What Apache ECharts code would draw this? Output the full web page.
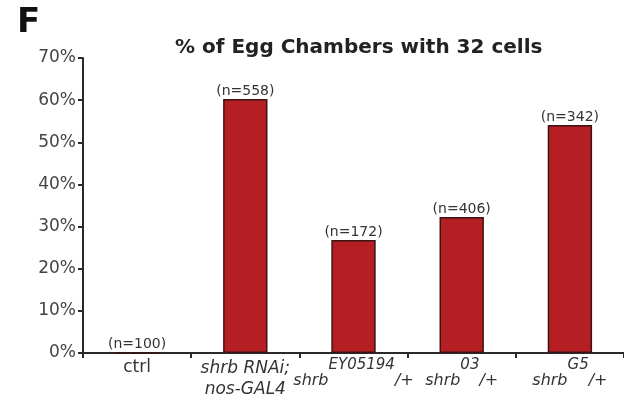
<!DOCTYPE html>
<html>
<head>
<meta charset="utf-8">
<script src="https://cdn.jsdelivr.net/npm/echarts@6/dist/echarts.min.js"></script>
<style>html,body{margin:0;padding:0;background:#fff;}#c{width:624px;height:408px;}</style>
</head>
<body>
<div id="c"></div>
<script>
const categories = ['ctrl', 'shrb RNAi; nos-GAL4', 'shrb EY05194/+', 'shrb 03/+', 'shrb G5/+'];
const percentValues = [0, 60.3, 26.8, 32.3, 54.1];
const nCounts = [100, 558, 172, 406, 342];
const yTicks = [0, 10, 20, 30, 40, 50, 60, 70];
const titleText = '% of Egg Chambers with 32 cells';
const panelLetter = 'F';

const categoryRich = {
  'ctrl': '{n|ctrl}',
  'shrb RNAi; nos-GAL4': '{i|shrb RNAi;}\n{i|nos-GAL4}',
  'shrb EY05194/+': '{b|shrb}{s|EY05194}{b|/+}',
  'shrb 03/+': '{b|shrb}{s|03}{b|/+}',
  'shrb G5/+': '{b|shrb}{s|G5}{b|/+}'
};

const FONT = 'DejaVu Sans';
const chart = echarts.init(document.getElementById('c'), null, {renderer: 'canvas'});
chart.setOption({
  animation: false,
  backgroundColor: '#ffffff',
  title: [
    {text: panelLetter, left: 12, top: 1,
     textStyle: {fontFamily: FONT, fontSize: 34, fontWeight: 'bold', color: '#111'}},
    {text: titleText, left: 170, top: 33,
     textStyle: {fontFamily: FONT, fontSize: 20, fontWeight: 'bold', color: '#222'}}
  ],
  grid: {left: 83, right: 0, top: 58, bottom: 55, containLabel: false},
  xAxis: {
    type: 'category',
    data: categories,
    axisLine: {lineStyle: {color: '#2a2a2a', width: 2}},
    axisTick: {show: true, length: 5, alignWithLabel: false, lineStyle: {color: '#2a2a2a', width: 2}},
    axisLabel: {
      interval: 0,
      margin: 5,
      verticalAlign: 'top',
      formatter: function (v) { return categoryRich[v] || v; },
      rich: {
        n: {fontFamily: FONT, fontSize: 17, color: '#333', lineHeight: 20},
        i: {fontFamily: FONT, fontSize: 17, fontStyle: 'italic', color: '#333', lineHeight: 21},
        b: {fontFamily: FONT, fontSize: 16, fontStyle: 'italic', color: '#333', lineHeight: 31, verticalAlign: 'bottom'},
        s: {fontFamily: FONT, fontSize: 15, fontStyle: 'italic', color: '#333', verticalAlign: 'top'}
      }
    }
  },
  yAxis: {
    type: 'value',
    min: yTicks[0],
    max: yTicks[yTicks.length - 1],
    interval: 10,
    splitLine: {show: false},
    axisLine: {show: true, lineStyle: {color: '#2a2a2a', width: 2}},
    axisTick: {show: true, length: 5, lineStyle: {color: '#2a2a2a', width: 2}},
    axisLabel: {
      margin: 7,
      fontFamily: FONT, fontSize: 17, color: '#444',
      padding: [0, 0, 10, 0],
      formatter: '{value}%'
    }
  },
  series: [{
    type: 'bar',
    data: percentValues,
    barWidth: '41%',
    itemStyle: {color: '#b51f24', borderColor: '#3a1414', borderWidth: 1.5},
    label: {
      show: true,
      position: 'top',
      distance: 1,
      fontFamily: FONT, fontSize: 14, color: '#333',
      formatter: function (p) { return '(n=' + nCounts[p.dataIndex] + ')'; }
    }
  }]
});
</script>
</body>
</html>
